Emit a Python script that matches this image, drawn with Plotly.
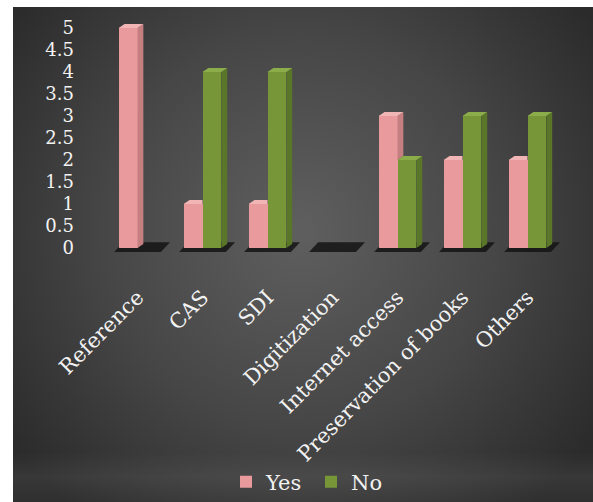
import base64
import plotly.graph_objects as go

categories = ["Reference", "CAS", "SDI", "Digitization", "Internet access",
              "Preservation of books", "Others"]
yes_values = [5, 1, 1, 0, 3, 2, 2]
no_values = [0, 4, 4, 0, 2, 3, 3]
y_ticks = [0, 0.5, 1, 1.5, 2, 2.5, 3, 3.5, 4, 4.5, 5]
y_tick_text = ["0", "0.5", "1", "1.5", "2", "2.5", "3", "3.5", "4", "4.5", "5"]

PINK = "#E99A9C"
PINK_SIDE = "#C57F81"
PINK_TOP = "#F2B5B6"
GREEN = "#769637"
GREEN_SIDE = "#5A7628"
GREEN_TOP = "#8CAE4A"

W, H = 593, 502
ML, MR, MT, MB = 105, 33, 24, 248
PW, PH = W - ML - MR, H - MT - MB

BW = 0.29      # bar front width (x units)
DX = 0.09      # depth offset x
DY = 0.09      # depth offset y
YR = [-0.136, 5.09]

xs = list(range(len(categories)))

# background gradient as svg
svg = f"""<svg xmlns='http://www.w3.org/2000/svg' width='{W}' height='{H}'>
<defs>
<radialGradient id='g' cx='300' cy='230' r='360' gradientUnits='userSpaceOnUse'>
<stop offset='0' stop-color='#5f5f5f'/>
<stop offset='0.55' stop-color='#464646'/>
<stop offset='1' stop-color='#2b2b2b'/>
</radialGradient>
<linearGradient id='b' x1='0' y1='0' x2='0' y2='1'>
<stop offset='0' stop-color='#ffffff' stop-opacity='0'/>
<stop offset='0.5' stop-color='#ffffff' stop-opacity='0.06'/>
<stop offset='1' stop-color='#ffffff' stop-opacity='0.02'/>
</linearGradient>
</defs>
<rect width='{W}' height='{H}' fill='white'/>
<rect x='13' y='7' width='{W-13}' height='{H-7}' fill='url(#g)'/>
<rect x='13' y='452' width='{W-13}' height='{H-452}' fill='url(#b)'/>
</svg>"""
src = "data:image/svg+xml;base64," + base64.b64encode(svg.encode()).decode()

fig = go.Figure()

# front faces
fig.add_trace(go.Bar(x=xs, y=yes_values, name="Yes", width=BW, offset=-BW,
                     marker=dict(color=PINK, line=dict(width=0))))
fig.add_trace(go.Bar(x=xs, y=no_values, name="No", width=BW, offset=0,
                     marker=dict(color=GREEN, line=dict(width=0))))

# side and top faces (derived from data)
def faces(vals, left_off, other=None):
    sx, sy, tx, ty = [], [], [], []
    for i, v in enumerate(vals):
        if v <= 0:
            continue
        xl = i + left_off
        xr = xl + BW
        low = 0
        if other is not None:
            if other[i] >= v:
                low = None
            else:
                low = other[i]
        if low is not None:
            sx += [xr, xr + DX, xr + DX, xr, xr, None]
            sy += [low, low + DY, v + DY, v, low, None]
            tx += [xl, xl + DX, xr + DX, xr, xl, None]
        else:
            tx += [xl, xl + DX, xr, xr, xl, None]
        ty += [v, v + DY, v + DY, v, v, None]
    return sx, sy, tx, ty

for vals, off, other, side_c, top_c in [
        (yes_values, -BW, no_values, PINK_SIDE, PINK_TOP),
        (no_values, 0, None, GREEN_SIDE, GREEN_TOP)]:
    sx, sy, tx, ty = faces(vals, off, other)
    if sx:
        fig.add_trace(go.Scatter(x=sx, y=sy, fill="toself", fillcolor=side_c,
                                 mode="lines", line=dict(width=0),
                                 hoverinfo="skip", showlegend=False))
    fig.add_trace(go.Scatter(x=tx, y=ty, fill="toself", fillcolor=top_c,
                             mode="lines", line=dict(width=0),
                             hoverinfo="skip", showlegend=False))

# floor plates under each group
shapes = []
for i in xs:
    path = (f"M {i-BW-0.07},{-0.09} L {i+BW+0.07},{-0.09} "
            f"L {i+BW+0.07+DX+0.05},{0.13} L {i-BW-0.07+DX+0.05},{0.13} Z")
    shapes.append(dict(type="path", path=path, xref="x", yref="y",
                       fillcolor="rgba(20,20,20,0.85)", line=dict(width=0),
                       layer="below"))

fig.update_layout(
    width=W, height=H,
    margin=dict(l=ML, r=MR, t=MT, b=MB, pad=0, autoexpand=False),
    paper_bgcolor="white",
    plot_bgcolor="rgba(0,0,0,0)",
    barmode="overlay",
    bargap=0,
    shapes=shapes,
    images=[dict(source=src, xref="paper", yref="paper",
                 x=-ML / PW, y=1 + MT / PH, sizex=W / PW, sizey=H / PH,
                 xanchor="left", yanchor="top", sizing="stretch",
                 layer="below")],
    xaxis=dict(range=[-0.5, 6.5], tickvals=xs, ticktext=categories,
               tickangle=-45, showgrid=False, zeroline=False, showline=False,
               ticks="", ticklabelstandoff=26, automargin=False,
               tickfont=dict(family="DejaVu Serif", size=21, color="#f2f2f2")),
    yaxis=dict(range=YR, tickvals=y_ticks, ticktext=y_tick_text,
               showgrid=False, zeroline=False, showline=False, ticks="",
               ticklabelstandoff=30, automargin=False,
               tickfont=dict(family="DejaVu Serif", size=18, color="#f2f2f2")),
    legend=dict(orientation="h", xref="container", yref="container",
                x=311 / W, xanchor="center", y=1 - 482 / H, yanchor="middle",
                bgcolor="rgba(0,0,0,0)",
                font=dict(family="DejaVu Serif", size=21, color="#f2f2f2"),
                itemwidth=30, entrywidth=40, entrywidthmode="pixels"),
    showlegend=True,
)

fig.write_html("out.html")
